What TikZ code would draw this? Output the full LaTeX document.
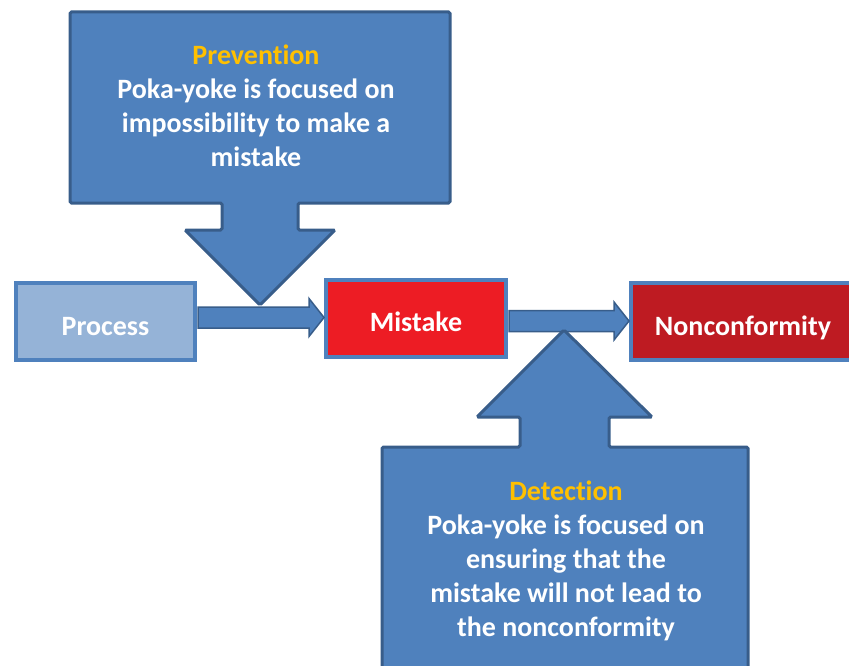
\documentclass[tikz,border=0pt]{standalone}
\usepackage{fontspec}
\setmainfont{Carlito}[Ligatures=NoCommon]
\usetikzlibrary{calc}

\definecolor{boxblue}{HTML}{4F81BD}
\definecolor{edgeblue}{HTML}{385D8A}
\definecolor{procblue}{HTML}{95B3D7}
\definecolor{mistakered}{HTML}{ED1C24}
\definecolor{nonconred}{HTML}{BE1B22}
\definecolor{headyellow}{HTML}{FFC000}

\tikzset{
  stagebox/.style={draw=boxblue, line width=4pt, text=white, inner sep=0pt,
    minimum height=77pt, text height=27pt, text depth=0pt,
    font=\bfseries\fontsize{28}{30}\selectfont},
  flowarrow/.style={fill=boxblue, draw=edgeblue, line width=1.5pt, line join=miter},
  calloutshape/.style={fill=boxblue, draw=edgeblue, line width=3pt, rounded corners=1.5pt},
  callouttext/.style={text=white, align=center, inner sep=0pt,
    font=\bfseries\fontsize{28}{34}\selectfont}
}

% block arrow from #1 to the tip #2
\newcommand{\blockarrow}[2]{%
  \draw[flowarrow] ($(#1)+(0,-10.5)$) -- ($(#2)+(-15,-10.5)$) -- ($(#2)+(-15,-19)$)
    -- (#2) -- ($(#2)+(-15,19)$) -- ($(#2)+(-15,10.5)$) -- ($(#1)+(0,10.5)$) -- cycle;}

\begin{document}
\begin{tikzpicture}[x=1pt, y=-1pt]
    \useasboundingbox (0,0) rectangle (849,666);
    \clip (0,0) rectangle (849,666);

    \node[stagebox, fill=procblue, minimum width=179pt] (process) at (105.5,321.5) {Process};
    \node[stagebox, fill=mistakered, minimum width=180pt] (mistake) at (416,318) {Mistake};
    \node[stagebox, fill=nonconred, minimum width=224pt, anchor=west] (noncon) at (629,321.5) {Nonconformity};

    \coordinate (p1) at ($(process.east)+(1,-4)$);
    \coordinate (m1) at (mistake.west |- p1);
    \coordinate (m2) at ($(mistake.east)+(1,3)$);
    \coordinate (n1) at (noncon.west |- m2);

    \blockarrow{p1}{m1}
    \blockarrow{m2}{n1}

    % prevention callout
    \draw[calloutshape] (70,12) -- (450,12) -- (450,203) -- (298,203) -- (298,230)
      -- (335,230) -- (260,305) -- (185,230) -- (222,230) -- (222,203) -- (70,203) -- cycle;
    \node[callouttext] (prevtext) at (256,106)
      {{\color{headyellow}Prevention}\\Poka-yoke is focused on\\impossibility to make a\\mistake};

    % detection callout
    \draw[calloutshape] (382,690) -- (382,447) -- (520,447) -- (520,417) -- (477,417)
      -- (564,330) -- (652,417) -- (609,417) -- (609,447) -- (748,447) -- (748,690) -- cycle;
    \node[callouttext] (dettext) at (566,561)
      {{\color{headyellow}Detection}\\Poka-yoke is focused on\\ensuring that the\\mistake will not lead to\\the nonconformity};
\end{tikzpicture}
\end{document}
